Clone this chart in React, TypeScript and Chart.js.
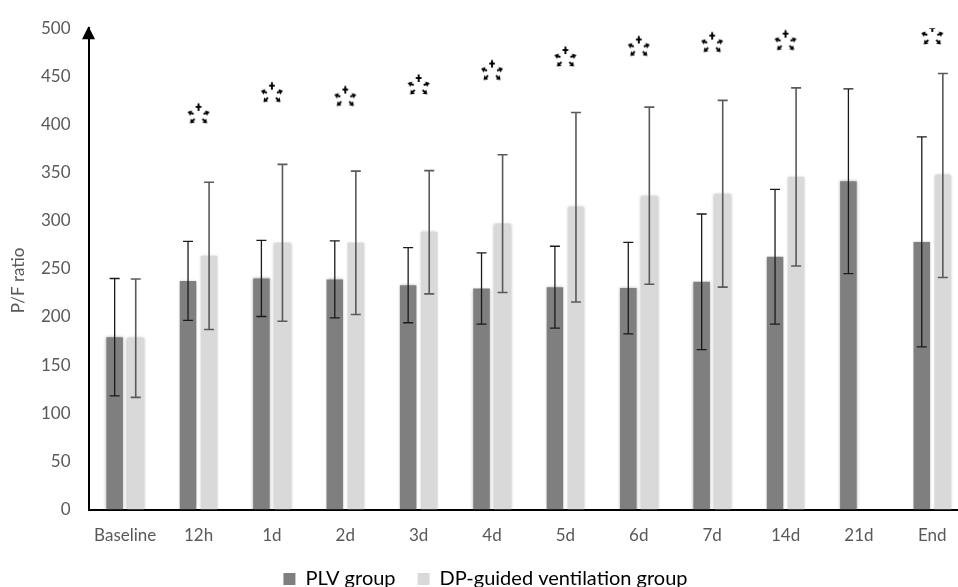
import React, { useEffect, useRef } from "react";
import { Chart, registerables } from "chart.js";

Chart.register(...registerables);

const categories = ["Baseline", "12h", "1d", "2d", "3d", "4d", "5d", "6d", "7d", "14d", "21d", "End"];
const plvMean = [179, 237.5, 240, 239, 233, 229.5, 231, 230, 236.5, 262.5, 341, 278];
const plvSD = [61, 41, 39.5, 40, 39, 37, 42.5, 47.5, 70.5, 70, 96, 109];
const dpMean = [178, 263.5, 277, 277, 288, 297, 314, 326, 328, 345.5, null, 347];
const dpSD = [61.5, 76.5, 81.5, 74.5, 64, 71.5, 98.5, 92, 97, 92.5, null, 106];
const markerY = [null, 410, 432, 428, 440, 455, 469, 480, 484, 486, null, 492];
const seriesNames = ["PLV group", "DP-guided ventilation group"];
const yTitle = "P/F ratio";
const yMin = 0;
const yMax = 500;
const yStep = 50;

const FONT = "Lato";
const TICK_COLOR = "#595959";

function makeMarker(): HTMLCanvasElement {
  const c = document.createElement("canvas");
  c.width = 28;
  c.height = 26;
  const g = c.getContext("2d") as CanvasRenderingContext2D;
  const cx = 14, cy = 13;
  g.strokeStyle = "#000";
  g.fillStyle = "#000";
  g.lineWidth = 1.9;
  const arrow = (x1: number, y1: number, x2: number, y2: number) => {
    const a = Math.atan2(y2 - y1, x2 - x1);
    g.beginPath();
    g.moveTo(cx + x1, cy + y1);
    g.lineTo(cx + x2 - Math.cos(a) * 2, cy + y2 - Math.sin(a) * 2);
    g.stroke();
    const hx = cx + x2, hy = cy + y2, s = 3.8;
    g.beginPath();
    g.moveTo(hx, hy);
    g.lineTo(hx - s * Math.cos(a) + s * 0.75 * Math.sin(a), hy - s * Math.sin(a) - s * 0.75 * Math.cos(a));
    g.lineTo(hx - s * Math.cos(a) - s * 0.75 * Math.sin(a), hy - s * Math.sin(a) + s * 0.75 * Math.cos(a));
    g.closePath();
    g.fill();
  };
  g.beginPath();
  g.moveTo(cx, cy - 11.5);
  g.lineTo(cx, cy - 4);
  g.moveTo(cx - 2.8, cy - 8);
  g.lineTo(cx + 2.8, cy - 8);
  g.stroke();
  arrow(-5, -1, -11, -3);
  arrow(5, -1, 11, -3);
  arrow(-4, 4, -8.5, 8.5);
  arrow(4, 4, 8.5, 8.5);
  return c;
}

const shadowPlugin = {
  id: "barShadow",
  beforeDatasetDraw(chart: any, args: any) {
    if (args.index < 2) {
      const ctx = chart.ctx;
      ctx.save();
      ctx.shadowColor = "rgba(0,0,0,0.3)";
      ctx.shadowBlur = 3;
    }
  },
  afterDatasetDraw(chart: any, args: any) {
    if (args.index < 2) chart.ctx.restore();
  },
};

const errorBarPlugin = {
  id: "errorBars",
  afterDatasetsDraw(chart: any) {
    const ctx = chart.ctx;
    const y = chart.scales.y;
    const specs = [
      { i: 0, mean: plvMean, sd: plvSD, color: "#1a1a1a", w: 1.3 },
      { i: 1, mean: dpMean, sd: dpSD, color: "#5a5a5a", w: 1.6 },
    ];
    ctx.save();
    for (const s of specs) {
      const meta = chart.getDatasetMeta(s.i);
      meta.data.forEach((el: any, k: number) => {
        const m = s.mean[k];
        const d = s.sd[k];
        if (m == null || d == null) return;
        const x = el.x;
        const yt = y.getPixelForValue(m + d);
        const yb = y.getPixelForValue(m - d);
        ctx.strokeStyle = s.color;
        ctx.lineWidth = s.w;
        ctx.beginPath();
        ctx.moveTo(x, yt);
        ctx.lineTo(x, yb);
        ctx.moveTo(x - 5, yt);
        ctx.lineTo(x + 5, yt);
        ctx.moveTo(x - 5, yb);
        ctx.lineTo(x + 5, yb);
        ctx.stroke();
      });
    }
    ctx.restore();
  },
};

const axisDecorPlugin = {
  id: "axisDecor",
  afterDraw(chart: any) {
    const ctx = chart.ctx;
    const area = chart.chartArea;
    const x = area.left;
    ctx.save();
    ctx.fillStyle = "#000";
    ctx.beginPath();
    ctx.moveTo(x, area.top - 2);
    ctx.lineTo(x - 6.5, area.top + 11);
    ctx.lineTo(x + 6.5, area.top + 11);
    ctx.closePath();
    ctx.fill();
    ctx.fillStyle = TICK_COLOR;
    ctx.font = `17px ${FONT}`;
    ctx.textAlign = "center";
    ctx.textBaseline = "middle";
    ctx.translate(19, chart.scales.y.getPixelForValue(238));
    ctx.rotate(-Math.PI / 2);
    ctx.fillText(yTitle, 0, 0);
    ctx.restore();
  },
};

export default function App() {
  const ref = useRef<HTMLCanvasElement | null>(null);
  useEffect(() => {
    document.body.style.margin = "0";
    const canvas = ref.current;
    if (!canvas) return;
    const marker = makeMarker();
    const chart = new Chart(canvas, {
      type: "bar",
      data: {
        labels: categories,
        datasets: [
          {
            label: seriesNames[0],
            data: plvMean,
            backgroundColor: "#7f7f7f",
            borderWidth: 0,
            categoryPercentage: 0.574,
            barPercentage: 0.786,
          },
          {
            label: seriesNames[1],
            data: dpMean as any,
            backgroundColor: "#d9d9d9",
            borderWidth: 0,
            categoryPercentage: 0.574,
            barPercentage: 0.786,
          },
          {
            type: "line",
            label: "sig",
            data: markerY as any,
            showLine: false,
            pointStyle: marker as any,
            pointRadius: 10,
            pointHoverRadius: 10,
          } as any,
        ],
      },
      options: {
        responsive: false,
        animation: false,
        events: [],
        layout: { padding: { top: 22, right: 9, left: 0, bottom: 0 } },
        plugins: {
          tooltip: { enabled: false },
          legend: {
            position: "bottom",
            labels: {
              boxWidth: 12,
              boxHeight: 12,
              padding: 22,
              color: "#000",
              font: { family: FONT, size: 20 },
              filter: (item: any) => item.datasetIndex < 2,
            },
          },
        },
        scales: {
          x: {
            z: 1,
            grid: { display: false, drawTicks: false },
            border: { display: true, color: "#000", width: 2 },
            ticks: { color: TICK_COLOR, font: { family: FONT, size: 17 }, padding: 16, maxRotation: 0, autoSkip: false },
            afterFit: (s: any) => {
              s.height = 37.5;
            },
          },
          y: {
            z: 1,
            min: yMin,
            max: yMax,
            grid: { display: false, drawTicks: false },
            border: { display: true, color: "#000", width: 2 },
            ticks: { stepSize: yStep, color: TICK_COLOR, font: { family: FONT, size: 17 }, padding: 18 },
            afterFit: (s: any) => {
              s.width = 88.5;
            },
          },
        },
      },
      plugins: [shadowPlugin, errorBarPlugin, axisDecorPlugin],
    });
    return () => chart.destroy();
  }, []);
  return (
    <div style={{ position: "fixed", left: 0, top: 0, width: 980, height: 599 }}>
      <canvas ref={ref} width={980} height={599} />
    </div>
  );
}
